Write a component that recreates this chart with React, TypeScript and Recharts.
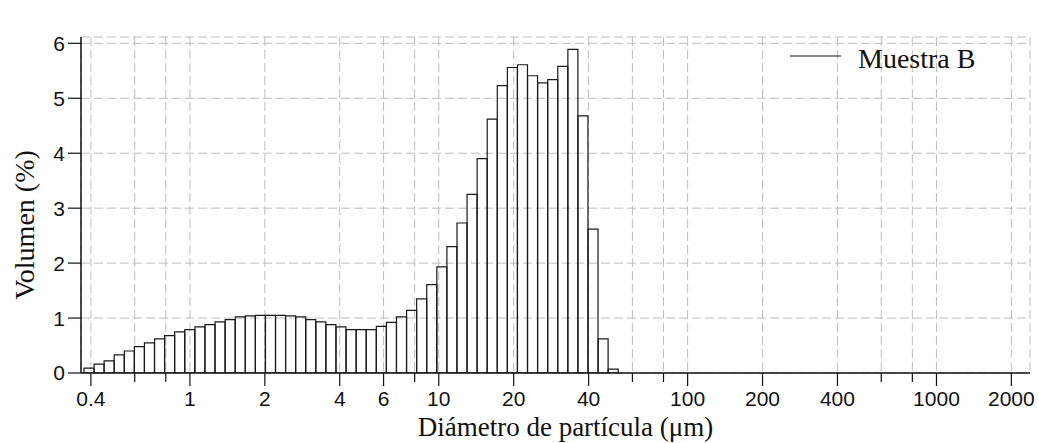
import { ComposedChart, Bar, XAxis, YAxis, CartesianGrid, Legend } from "recharts";

// Coulter channel edges (µm), 53 bins
const binEdges = [
  0.375, 0.412, 0.452, 0.496, 0.545, 0.598, 0.656, 0.721, 0.791, 0.868,
  0.953, 1.047, 1.149, 1.261, 1.385, 1.52, 1.669, 1.832, 2.011, 2.208,
  2.423, 2.66, 2.92, 3.206, 3.519, 3.863, 4.241, 4.656, 5.111, 5.611,
  6.159, 6.761, 7.422, 8.148, 8.944, 9.819, 10.78, 11.83, 12.99, 14.26,
  15.65, 17.18, 18.86, 20.71, 22.73, 24.95, 27.39, 30.07, 33.01, 36.24,
  39.78, 43.67, 47.94, 52.62,
];

const volumeB = [
  0.09, 0.16, 0.22, 0.33, 0.4, 0.48, 0.55, 0.62, 0.68, 0.75,
  0.79, 0.84, 0.88, 0.93, 0.97, 1.02, 1.04, 1.05, 1.05, 1.05,
  1.04, 1.02, 0.97, 0.93, 0.88, 0.84, 0.79, 0.79, 0.79, 0.85,
  0.92, 1.02, 1.14, 1.35, 1.61, 1.93, 2.3, 2.73, 3.25, 3.9,
  4.62, 5.23, 5.56, 5.61, 5.41, 5.28, 5.34, 5.58, 5.89, 4.68,
  2.62, 0.62, 0.07,
];

const xTicks = [0.4, 0.6, 0.8, 1, 2, 4, 6, 8, 10, 20, 40, 60, 80, 100, 200, 400, 600, 800, 1000, 2000];
const xTickLabels = ["0.4", "", "", "1", "2", "4", "6", "", "10", "20", "40", "", "", "100", "200", "400", "", "", "1000", "2000"];
const yTicks = [0, 1, 2, 3, 4, 5, 6];

const X_DOMAIN: [number, number] = [0.365, 2376];
const Y_DOMAIN: [number, number] = [0, 6.115];

const SERIF = "'Liberation Serif', 'Times New Roman', serif";
const SANS = "'Liberation Sans', Arial, sans-serif";

const data = volumeB.map((v, i) => ({
  x: Math.sqrt(binEdges[i] * binEdges[i + 1]),
  v,
}));

const XTick = (props: any) => {
  const { x, y, payload } = props;
  const label = xTickLabels[xTicks.indexOf(payload.value)] || "";
  const len = label ? 13 : 9;
  return (
    <g>
      <line x1={x} y1={y} x2={x} y2={y + len} stroke="#111" strokeWidth={1.2} />
      {label && (
        <text x={x} y={y + 33} textAnchor="middle" fontFamily={SANS} fontSize={21} fill="#111">
          {label}
        </text>
      )}
    </g>
  );
};

const LegendBox = () => (
  <svg width={200} height={40}>
    <line x1={5} y1={16} x2={56} y2={16} stroke="#111" strokeWidth={1.2} />
    <text x={73} y={28.3} fontFamily={SERIF} fontSize={28} fill="#111">
      Muestra B
    </text>
  </svg>
);

export default function App() {
  return (
    <div style={{ position: "absolute", left: 0, top: 0, background: "#fff" }}>
      <ComposedChart
        width={1039}
        height={443}
        data={data}
        margin={{ top: 37, right: 9, left: 0, bottom: 0 }}
        barCategoryGap={0}
        barGap={0}
      >
        <CartesianGrid stroke="#bdbdbd" strokeDasharray="9 4" strokeWidth={1} />
        <XAxis
          dataKey="x"
          type="number"
          scale="log"
          domain={X_DOMAIN}
          allowDataOverflow
          ticks={xTicks}
          interval={0}
          height={70}
          tickSize={0}
          tickMargin={0}
          tickLine={false}
          axisLine={{ stroke: "#111", strokeWidth: 1.5 }}
          tick={<XTick />}
          label={(p: any) => (
            <text
              x={p.viewBox.x + p.viewBox.width / 2 + 10}
              y={p.viewBox.y + 63}
              textAnchor="middle"
              fontFamily={SERIF}
              fontSize={27}
              fill="#111"
            >
              Diámetro de partícula (μm)
            </text>
          )}
        />
        <XAxis
          xAxisId="top"
          orientation="top"
          dataKey="x"
          type="number"
          scale="log"
          domain={X_DOMAIN}
          allowDataOverflow
          height={0}
          tick={false}
          tickLine={false}
          axisLine={{ stroke: "#111", strokeWidth: 1.5 }}
          label={(p: any) => (
            <text
              x={p.viewBox.x + p.viewBox.width / 2 + 3}
              y={p.viewBox.y - 10.3}
              textAnchor="middle"
              fontFamily={SERIF}
              fontSize={27}
              fill="#111"
            >
              Volumen diferencial
            </text>
          )}
        />
        <YAxis
          type="number"
          domain={Y_DOMAIN}
          allowDataOverflow
          ticks={yTicks}
          interval={0}
          width={81}
          tickSize={13}
          tickMargin={3}
          tickLine={{ stroke: "#111", strokeWidth: 1.2 }}
          axisLine={{ stroke: "#111", strokeWidth: 1.5 }}
          tick={{ fontFamily: SANS, fontSize: 21, fill: "#111" }}
          label={(p: any) => (
            <text
              x={24}
              y={p.viewBox.y + p.viewBox.height / 2 + 20}
              transform={`rotate(-90 24 ${p.viewBox.y + p.viewBox.height / 2 + 20})`}
              textAnchor="middle"
              dominantBaseline="central"
              fontFamily={SERIF}
              fontSize={28}
              fill="#111"
            >
              Volumen (%)
            </text>
          )}
        />
        <YAxis
          yAxisId="right"
          orientation="right"
          type="number"
          domain={Y_DOMAIN}
          width={0}
          tick={false}
          tickLine={false}
          axisLine={{ stroke: "#111", strokeWidth: 1.5 }}
        />
        <Legend
          layout="horizontal"
          align="center"
          verticalAlign="middle"
          content={<LegendBox />}
          wrapperStyle={{ left: 785, top: 40, width: 200, height: 40 }}
        />
        <Bar
          dataKey="v"
          name="Muestra B"
          fill="none"
          stroke="#1a1a1a"
          strokeWidth={1.2}
          isAnimationActive={false}
        />
      </ComposedChart>
    </div>
  );
}
